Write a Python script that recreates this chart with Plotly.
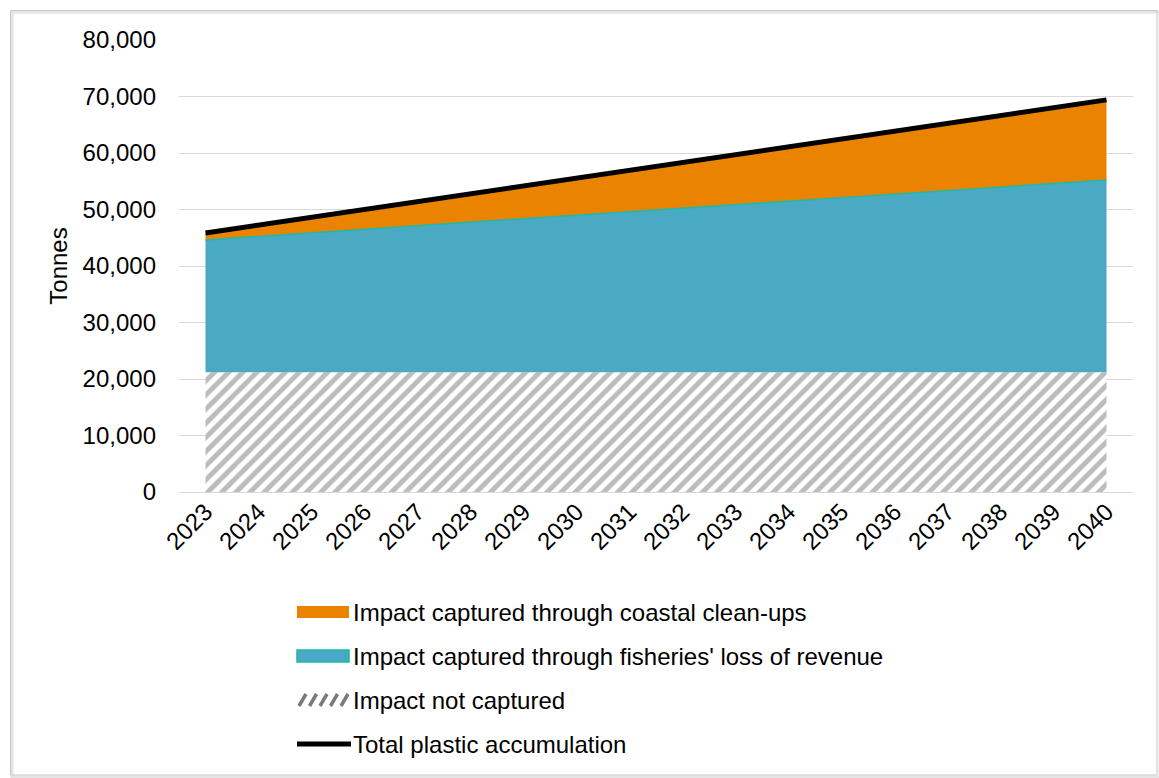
import plotly.graph_objects as go

years = list(range(2023, 2041))

# Stacked components (tonnes)
not_captured = [21200] * 18
fisheries_loss = [23400, 24050, 24680, 25300, 25930, 26550, 27180, 27800, 28420,
                  29050, 29670, 30300, 30920, 31550, 32170, 32800, 33400, 34000]
coastal_cleanups = [1250, 1980, 2740, 3500, 4260, 5020, 5780, 6540, 7310,
                    8060, 8830, 9580, 10350, 11100, 11870, 12620, 13410, 14200]
total_accumulation = [a + b + c for a, b, c in zip(not_captured, fisheries_loss, coastal_cleanups)]

y_ticks = list(range(0, 80001, 10000))

legend_labels = [
    "Impact captured through coastal clean-ups",
    "Impact captured through fisheries' loss of revenue",
    "Impact not captured",
    "Total plastic accumulation",
]

FONT = "Liberation Sans, Arial, sans-serif"
FS = 24

ORANGE = "#e98300"
BLUE = "#4aaac4"
TEAL = "#1bb9aa"
HATCH = "#7a7a7a"

fig = go.Figure()

fig.add_trace(go.Scatter(
    x=years, y=not_captured, name=legend_labels[2],
    stackgroup="s", mode="lines", line=dict(width=0, color=HATCH),
    fillcolor="white",
    fillpattern=dict(shape="/", fgcolor=HATCH, bgcolor="white", size=10, solidity=0.5),
    hoverinfo="skip",
))
fig.add_trace(go.Scatter(
    x=years, y=fisheries_loss, name=legend_labels[1],
    stackgroup="s", mode="lines", line=dict(width=1.5, color=TEAL),
    fillcolor=BLUE,
))
fig.add_trace(go.Scatter(
    x=years, y=coastal_cleanups, name=legend_labels[0],
    stackgroup="s", mode="lines", line=dict(width=0, color=ORANGE),
    fillcolor=ORANGE,
))
fig.add_trace(go.Scatter(
    x=years, y=total_accumulation, name=legend_labels[3],
    mode="lines", line=dict(width=5, color="black"),
))

# Pixel helpers for shapes placed around the plot area
pl, pr, pt, pb = 179, 26, 40, 286
W, H = 1159, 778
pw, ph = W - pl - pr, H - pt - pb


def px_x(v):
    return (v - pl) / pw


def px_y(v):
    return (H - pb - v) / ph


shapes = []
# Chart frame with a soft shadow
shapes.append(dict(type="rect", xref="paper", yref="paper",
                   x0=px_x(12), x1=px_x(1160), y0=px_y(777), y1=px_y(12),
                   line=dict(color="#e4e4e4", width=3), layer="below"))
shapes.append(dict(type="rect", xref="paper", yref="paper",
                   x0=px_x(10.5), x1=px_x(1157), y0=px_y(775), y1=px_y(10.5),
                   line=dict(color="#c8c8c8", width=1), layer="below"))

# Legend
rows = [612, 656, 700, 744]
sx0, sx1 = 297, 349
shapes.append(dict(type="rect", xref="paper", yref="paper",
                   x0=px_x(sx0), x1=px_x(sx1), y0=px_y(rows[0] + 6), y1=px_y(rows[0] - 6),
                   fillcolor=ORANGE, line=dict(width=0)))
shapes.append(dict(type="rect", xref="paper", yref="paper",
                   x0=px_x(sx0), x1=px_x(sx1), y0=px_y(rows[1] + 6), y1=px_y(rows[1] - 6),
                   fillcolor=BLUE, line=dict(color=TEAL, width=1.5)))
for k in range(5):
    bx = sx0 + 2 + k * 10.5
    shapes.append(dict(type="line", xref="paper", yref="paper",
                       x0=px_x(bx), x1=px_x(min(bx + 7, sx1)),
                       y0=px_y(rows[2] + 6), y1=px_y(rows[2] - 6),
                       line=dict(color=HATCH, width=3.5)))
shapes.append(dict(type="line", xref="paper", yref="paper",
                   x0=px_x(sx0), x1=px_x(sx1 + 2), y0=px_y(rows[3]), y1=px_y(rows[3]),
                   line=dict(color="black", width=5)))

annotations = [
    dict(text=lab, xref="paper", yref="paper", x=px_x(351), y=px_y(r),
         xanchor="left", yanchor="middle", showarrow=False,
         font=dict(family=FONT, size=FS, color="black"))
    for lab, r in zip(legend_labels, rows)
]

fig.update_layout(
    width=W, height=H,
    margin=dict(l=pl, r=pr, t=pt, b=pb),
    paper_bgcolor="white", plot_bgcolor="white",
    font=dict(family=FONT, size=FS, color="black"),
    showlegend=False,
    shapes=shapes,
    annotations=annotations,
    xaxis=dict(
        range=[2022.5, 2040.5], tickvals=years, ticktext=[str(y) for y in years],
        tickangle=-45, showgrid=False, zeroline=False, showline=False,
        ticks="", tickfont=dict(size=FS),
    ),
    yaxis=dict(
        range=[0, 80000], tickvals=y_ticks, tickformat=",",
        showgrid=True, gridcolor="#d9d9d9", gridwidth=1.3,
        zeroline=True, zerolinecolor="#d9d9d9", zerolinewidth=1.3,
        showline=False, ticks="", tickfont=dict(size=FS), ticklabelstandoff=22,
        title=dict(text="Tonnes", font=dict(size=FS), standoff=8),
    ),
)

fig.write_html("out.html")
